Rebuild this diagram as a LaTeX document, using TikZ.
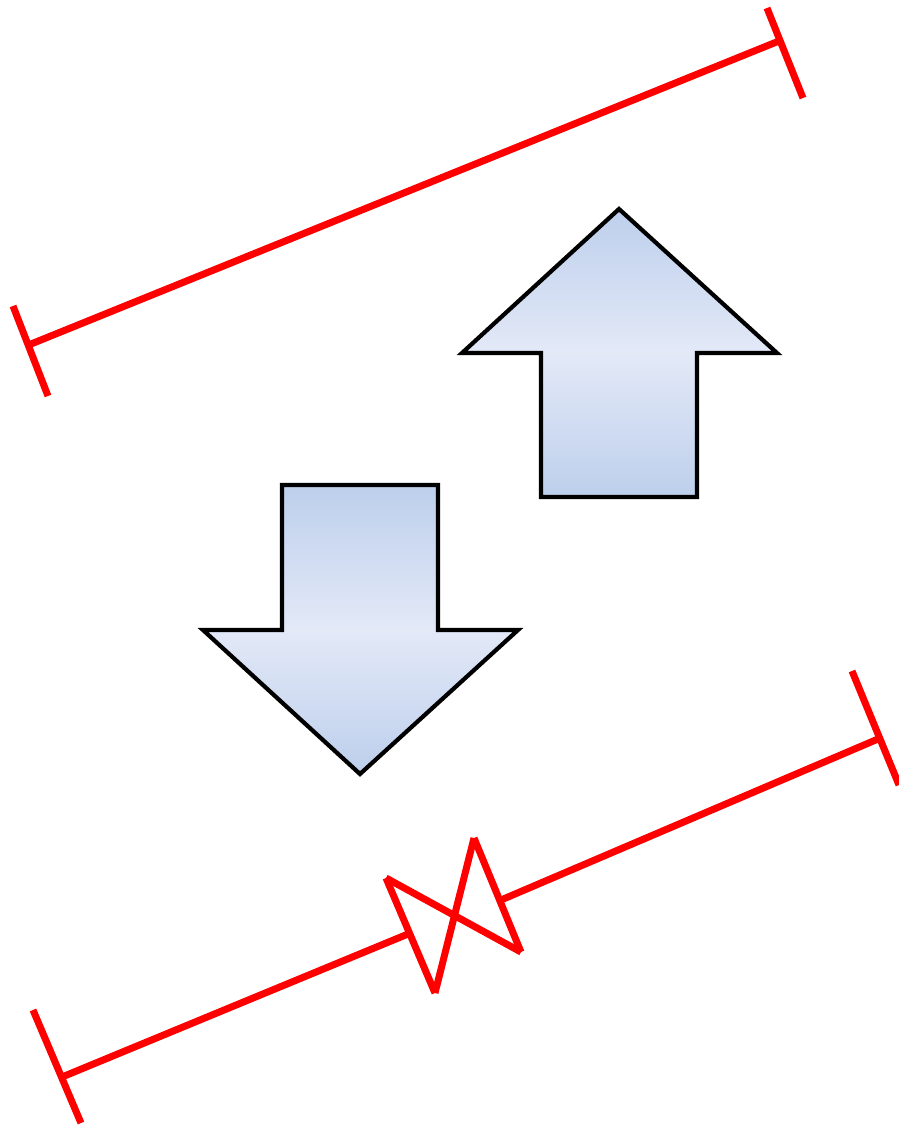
\documentclass[tikz,border=0pt]{standalone}
\begin{document}
\begin{tikzpicture}[x=1pt,y=-1pt,
  dimline/.style={draw={rgb,255:red,255;green,0;blue,0},line width=7pt,line cap=butt,line join=miter},
  blockarrow/.style={draw=black,line width=4.2pt,line join=miter,
    top color=arrowend,bottom color=arrowend,middle color=arrowmid}]
\definecolor{arrowend}{RGB}{189,207,236}
\definecolor{arrowmid}{RGB}{227,233,247}
\useasboundingbox (0,0) rectangle (899,1125);
% top dimension line
\coordinate (ta) at (31,344);
\coordinate (tb) at (779,41);
\draw[dimline] (ta) -- (tb);
\draw[dimline] (13,306) -- (48,396);
\draw[dimline] (767,8) -- (803,98);
% bottom dimension line with break
\coordinate (ba) at (62,1077);
\coordinate (bb) at (878,739);
\coordinate (z1) at (386,878);
\coordinate (z2) at (435,993);
\coordinate (z3) at (474,838);
\coordinate (z4) at (521,952);
\draw[dimline] (ba) -- (408,934);
\draw[dimline] (bb) -- (501,900);
\draw[dimline] (33,1010) -- (81,1123);
\draw[dimline] (852,671) -- (899,785);
\draw[dimline] (z1) -- (z2);
\draw[dimline] (z2) -- (z3);
\draw[dimline] (z3) -- (z4);
\draw[dimline] (z1) -- (z4);
% up arrow
\draw[blockarrow] (619,209) -- (777,353) -- (697,353) -- (697,497) -- (541,497) -- (541,353) -- (462,353) -- cycle;
% down arrow
\draw[blockarrow] (360,774) -- (518,630) -- (438,630) -- (438,485) -- (282,485) -- (282,630) -- (203,630) -- cycle;
\end{tikzpicture}
\end{document}
